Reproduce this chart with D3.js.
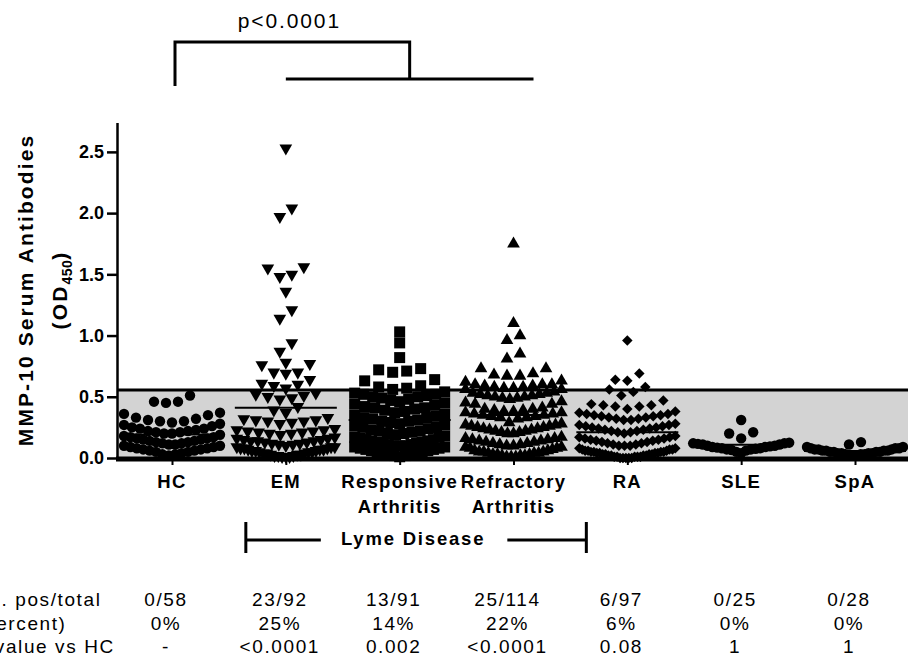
<!DOCTYPE html>
<html>
<head>
<meta charset="utf-8">
<script src="https://cdn.jsdelivr.net/npm/d3@7"></script>
<style>
body { margin: 0; background: #fff; }
text { font-family: "Liberation Sans", Arial, sans-serif; fill: #000; }
</style>
</head>
<body>
<svg width="908" height="660"></svg>
<script>
// groups along the x axis
var categories = ["HC", "EM", "Responsive Arthritis", "Refractory Arthritis", "RA", "SLE", "SpA"];

// OD450 values, one array per group
var hc = [0.51, 0.46, 0.46, 0.45, 0.37, 0.36, 0.35, 0.33, 0.32, 0.31, 0.30, 0.30, 0.29,
	0.28, 0.27, 0.26, 0.25, 0.24, 0.24, 0.23, 0.22, 0.22, 0.21, 0.21, 0.20, 0.20,
	0.19, 0.18, 0.17, 0.17, 0.16, 0.16, 0.15, 0.15, 0.14, 0.14, 0.13, 0.13, 0.12, 0.12, 0.11, 0.11,
	0.10, 0.10, 0.09, 0.09, 0.08, 0.08, 0.07, 0.07, 0.06, 0.06, 0.05, 0.05, 0.04, 0.03, 0.03, 0.02];

var em = [2.53, 2.04, 1.97, 1.56, 1.55, 1.50, 1.48, 1.36, 1.21, 1.14, 0.94, 0.87,
	0.78, 0.77, 0.76, 0.70, 0.70, 0.69, 0.64, 0.61, 0.60, 0.59, 0.57,
	0.53, 0.52, 0.51, 0.50, 0.49, 0.48, 0.42, 0.39, 0.37,
	0.33, 0.32, 0.31, 0.31, 0.30, 0.30, 0.29, 0.28,
	0.24, 0.23, 0.23, 0.22, 0.22, 0.21, 0.21, 0.20, 0.20, 0.19,
	0.17, 0.16, 0.16, 0.15, 0.15, 0.14, 0.14, 0.14, 0.13, 0.13, 0.12, 0.12, 0.11, 0.11, 0.10,
	0.09, 0.09, 0.09, 0.08, 0.08, 0.08, 0.07, 0.07, 0.07, 0.06, 0.06, 0.06, 0.05, 0.05, 0.05,
	0.04, 0.04, 0.04, 0.03, 0.03, 0.03, 0.02, 0.02, 0.02, 0.01, 0.01, 0.01];

var responsive = [1.03, 0.94, 0.82, 0.73, 0.72, 0.71, 0.70, 0.64, 0.63, 0.59, 0.58, 0.57, 0.56,
	0.54, 0.53, 0.52, 0.52, 0.51, 0.50, 0.50, 0.49, 0.48, 0.47, 0.46, 0.45,
	0.44, 0.43, 0.42, 0.41, 0.41, 0.40, 0.39, 0.38, 0.37, 0.36, 0.35,
	0.34, 0.33, 0.33, 0.32, 0.31, 0.30, 0.30, 0.29, 0.28, 0.27, 0.26,
	0.25, 0.25, 0.24, 0.23, 0.22, 0.22, 0.21, 0.20, 0.20, 0.19, 0.18,
	0.17, 0.17, 0.16, 0.15, 0.15, 0.14, 0.14, 0.13, 0.13, 0.12, 0.12,
	0.11, 0.11, 0.10, 0.10, 0.10, 0.09, 0.09, 0.08, 0.08, 0.07, 0.07,
	0.06, 0.06, 0.05, 0.05, 0.04, 0.04, 0.03, 0.03, 0.02, 0.02, 0.01];

var refractory = [1.75, 1.10, 1.00, 0.96, 0.85, 0.81, 0.73, 0.73, 0.69, 0.68, 0.67, 0.67, 0.63, 0.62,
	0.60, 0.60, 0.60, 0.59, 0.59, 0.58, 0.58, 0.57, 0.57, 0.56, 0.56,
	0.54, 0.53, 0.53, 0.52, 0.52, 0.51, 0.51, 0.50, 0.50, 0.49, 0.49, 0.48,
	0.46, 0.45, 0.44, 0.44,
	0.41, 0.40, 0.40, 0.39, 0.39, 0.38, 0.38, 0.37, 0.37, 0.36, 0.36, 0.35, 0.35, 0.34, 0.34, 0.33, 0.33, 0.32,
	0.29, 0.28, 0.27, 0.27, 0.26, 0.26, 0.25, 0.25, 0.24, 0.24, 0.23, 0.23, 0.22, 0.22, 0.21, 0.21, 0.20, 0.20,
	0.17, 0.16, 0.16, 0.15, 0.15, 0.14, 0.14, 0.13, 0.13, 0.12, 0.12, 0.11, 0.11, 0.10, 0.10, 0.09, 0.09, 0.08, 0.08, 0.07,
	0.06, 0.06, 0.05, 0.05, 0.05, 0.04, 0.04, 0.04, 0.03, 0.03, 0.03, 0.02, 0.02, 0.02, 0.01, 0.01, 0.01];

var ra = [0.96, 0.69, 0.64, 0.63, 0.58, 0.56,
	0.54, 0.51, 0.47,
	0.44, 0.43, 0.43, 0.42, 0.42, 0.40,
	0.38, 0.37, 0.36, 0.36, 0.35, 0.35, 0.34, 0.34, 0.33, 0.33, 0.32, 0.32, 0.31, 0.31,
	0.28, 0.27, 0.27, 0.26, 0.26, 0.25, 0.25, 0.24, 0.24, 0.23, 0.23, 0.22, 0.22, 0.21, 0.21, 0.20,
	0.18, 0.17, 0.17, 0.16, 0.16, 0.15, 0.15, 0.14, 0.14, 0.13, 0.13, 0.12, 0.12, 0.11, 0.11, 0.10, 0.10, 0.10,
	0.08, 0.08, 0.07, 0.07, 0.07, 0.06, 0.06, 0.06, 0.05, 0.05, 0.05, 0.05, 0.04, 0.04, 0.04, 0.04, 0.03, 0.03, 0.03, 0.03,
	0.02, 0.02, 0.02, 0.02, 0.01, 0.01, 0.01, 0.01, 0.01, 0.00, 0.00, 0.00, 0.00, 0.00];

var sle = [0.31, 0.21, 0.20, 0.16,
	0.125, 0.12, 0.12, 0.115, 0.11, 0.11, 0.10, 0.10, 0.095, 0.09, 0.09,
	0.085, 0.08, 0.08, 0.075, 0.07, 0.07, 0.065, 0.06, 0.05, 0.04];

var spa = [0.13, 0.11,
	0.09, 0.09, 0.08, 0.08, 0.08, 0.07, 0.07, 0.07, 0.06, 0.06, 0.06, 0.06, 0.05,
	0.05, 0.05, 0.05, 0.04, 0.04, 0.04, 0.04, 0.03, 0.03, 0.03, 0.02, 0.02, 0.02];

var series = [hc, em, responsive, refractory, ra, sle, spa];
var symbols = ["circle", "down", "square", "up", "diamond", "circle", "circle"];

var cutoff = 0.555;
var yTicks = [0, 0.5, 1.0, 1.5, 2.0, 2.5];

// table under the chart
var rowLabels = ["No. pos/total", "(Percent)", "P value vs HC"];
var posTotal = ["0/58", "23/92", "13/91", "25/114", "6/97", "0/25", "0/28"];
var percent = ["0%", "25%", "14%", "22%", "6%", "0%", "0%"];
var pVsHC = ["-", "<0.0001", "0.002", "<0.0001", "0.08", "1", "1"];

var svg = d3.select("svg"),
	width = +svg.attr("width");

var x = d3.scalePoint().domain(categories).range([172, 855]);
var y = d3.scaleLinear().domain([0, 2.74]).range([458, 122.5]);
var x0 = 117;

// GraphPad-like column scatter: rows of nearly equal values, spread out from the centre
function columnScatter(values, binH, step, maxW) {
	var s = values.slice().sort(d3.ascending), rows = [], row = null;
	s.forEach(function(v) {
		if (!row || v >= row.start + binH - 1e-9) { row = {start: v, vals: []}; rows.push(row); }
		row.vals.push(v);
	});
	var out = [];
	rows.forEach(function(r) {
		var n = r.vals.length,
			sp = n > 1 ? Math.min(step, maxW / (n - 1)) : 0;
		r.vals.forEach(function(v, i) {
			var k;
			if (n % 2) k = i === 0 ? 0 : (i % 2 ? -(i + 1) / 2 : i / 2);
			else k = (i % 2 ? 1 : -1) * (Math.floor(i / 2) + 0.5);
			out.push({v: v, dx: k * sp});
		});
	});
	return out;
}

var shape = {
	circle: {path: d3.symbol(d3.symbolCircle, 85)(), rot: 0, step: 12, w: 96},
	down: {path: d3.symbol(d3.symbolTriangle, 70)(), rot: 180, step: 12, w: 98},
	up: {path: d3.symbol(d3.symbolTriangle, 70)(), rot: 0, step: 13, w: 96},
	square: {path: d3.symbol(d3.symbolSquare, 121)(), rot: 0, step: 14, w: 90},
	diamond: {path: d3.symbol(d3.symbolSquare, 55)(), rot: 45, step: 12, w: 96}
};

// cutoff band
svg.append("rect")
	.attr("x", x0).attr("y", y(cutoff))
	.attr("width", width - x0).attr("height", y(0) - y(cutoff))
	.attr("fill", "#d3d3d3");
svg.append("line")
	.attr("x1", x0).attr("x2", width)
	.attr("y1", y(cutoff)).attr("y2", y(cutoff))
	.attr("stroke", "#000").attr("stroke-width", 3);

// points
categories.forEach(function(c, gi) {
	var sh = shape[symbols[gi]];
	var pts = columnScatter(series[gi], 0.09, sh.step, sh.w);
	svg.append("g").selectAll("path")
		.data(pts)
		.enter().append("path")
		.attr("d", sh.path)
		.attr("fill", "#000")
		.attr("transform", function(d) {
			return "translate(" + (x(c) + d.dx) + "," + y(d.v) + ") rotate(" + sh.rot + ")";
		});
	var m = d3.mean(series[gi]);
	svg.append("line")
		.attr("x1", x(c) - 51).attr("x2", x(c) + 51)
		.attr("y1", y(m)).attr("y2", y(m))
		.attr("stroke", "#000").attr("stroke-width", 2);
});

// y axis
var yAxis = svg.append("g")
	.attr("transform", "translate(" + x0 + ",0)")
	.call(d3.axisLeft(y).tickValues(yTicks).tickFormat(d3.format(".1f")).tickSizeInner(10).tickSizeOuter(0).tickPadding(3));
yAxis.select(".domain").attr("stroke-width", 2.5);
yAxis.selectAll(".tick line").attr("stroke-width", 2.5);
yAxis.selectAll(".tick text")
	.attr("font-family", "Liberation Sans, Arial, sans-serif")
	.attr("font-size", 18).attr("font-weight", "bold");

// x axis
var xAxis = svg.append("g")
	.attr("transform", "translate(0," + (y(0) + 1) + ")")
	.call(d3.axisBottom(x).tickSizeInner(6).tickSizeOuter(0).tickFormat(""));
xAxis.select(".domain").remove();
xAxis.selectAll(".tick line").attr("stroke-width", 2);
svg.append("line")
	.attr("x1", x0 - 1).attr("x2", width)
	.attr("y1", y(0) + 1).attr("y2", y(0) + 1)
	.attr("stroke", "#000").attr("stroke-width", 5);

var xl = svg.append("g").selectAll("text")
	.data(categories)
	.enter().append("text")
	.attr("text-anchor", "middle")
	.attr("font-size", 18.5).attr("font-weight", "bold")
	.attr("letter-spacing", 1.3)
	.attr("x", function(d) { return x(d); })
	.attr("y", 488);
xl.selectAll("tspan")
	.data(function(d) { return d.split(" ").map(function(w) { return {w: w, x: x(d)}; }); })
	.enter().append("tspan")
	.attr("x", function(d) { return d.x; })
	.attr("dy", function(d, i) { return i ? 25 : 0; })
	.text(function(d) { return d.w; });

// y label
var yl = svg.append("g").attr("font-weight", "bold").attr("text-anchor", "middle");
yl.append("text")
	.attr("transform", "translate(33,290) rotate(-90)")
	.attr("font-size", 21).attr("letter-spacing", 2.1)
	.text("MMP-10 Serum Antibodies");
var yl2 = yl.append("text")
	.attr("transform", "translate(67,290) rotate(-90)")
	.attr("font-size", 21).attr("letter-spacing", 2.1);
yl2.append("tspan").text("(OD");
yl2.append("tspan").attr("font-size", 14).attr("dy", 5).attr("letter-spacing", 0.5).text("450");
yl2.append("tspan").attr("dy", -5).text(")");

// comparison bracket on top
var br = svg.append("g").attr("fill", "none").attr("stroke", "#000").attr("stroke-width", 3);
var bL = x("HC") + 3, bA = x("EM"), bB = x("Refractory Arthritis") + 20, bM = (bA + bB) / 2;
br.append("path").attr("d", "M" + bL + ",86V42H" + bM + "V79");
br.append("path").attr("d", "M" + bA + ",79H" + bB);
svg.append("text")
	.attr("x", (bL + bM) / 2 - 3).attr("y", 28)
	.attr("text-anchor", "middle")
	.attr("font-size", 21).attr("letter-spacing", 1.9)
	.text("p<0.0001");

// Lyme disease bracket
var lL = x("EM") - 40, lR = x("RA") - 41, lY = 540;
var lb = svg.append("g").attr("fill", "none").attr("stroke", "#000").attr("stroke-width", 3);
lb.append("path").attr("d", "M" + lL + "," + (lY - 18) + "V" + (lY + 13) + "M" + lL + "," + lY + "H" + (lL + 75));
lb.append("path").attr("d", "M" + lR + "," + (lY - 18) + "V" + (lY + 13) + "M" + lR + "," + lY + "H" + (lR - 79));
svg.append("text")
	.attr("x", (lL + lR) / 2 - 3).attr("y", 545)
	.attr("text-anchor", "middle")
	.attr("font-size", 18.5).attr("font-weight", "bold").attr("letter-spacing", 1.8)
	.text("Lyme Disease");

// table
var rows = [posTotal, percent, pVsHC], rowY = [606, 629.5, 653];
var tb = svg.append("g").attr("font-size", 19).attr("letter-spacing", 1.6);
rows.forEach(function(r, ri) {
	tb.append("text").attr("x", -26).attr("y", rowY[ri]).text(rowLabels[ri]);
	tb.selectAll(".c" + ri)
		.data(r)
		.enter().append("text")
		.attr("class", "c" + ri)
		.attr("text-anchor", "middle")
		.attr("x", function(d, i) { return x(categories[i]) - 6; })
		.attr("y", rowY[ri])
		.text(function(d) { return d; });
});
</script>
</body>
</html>
